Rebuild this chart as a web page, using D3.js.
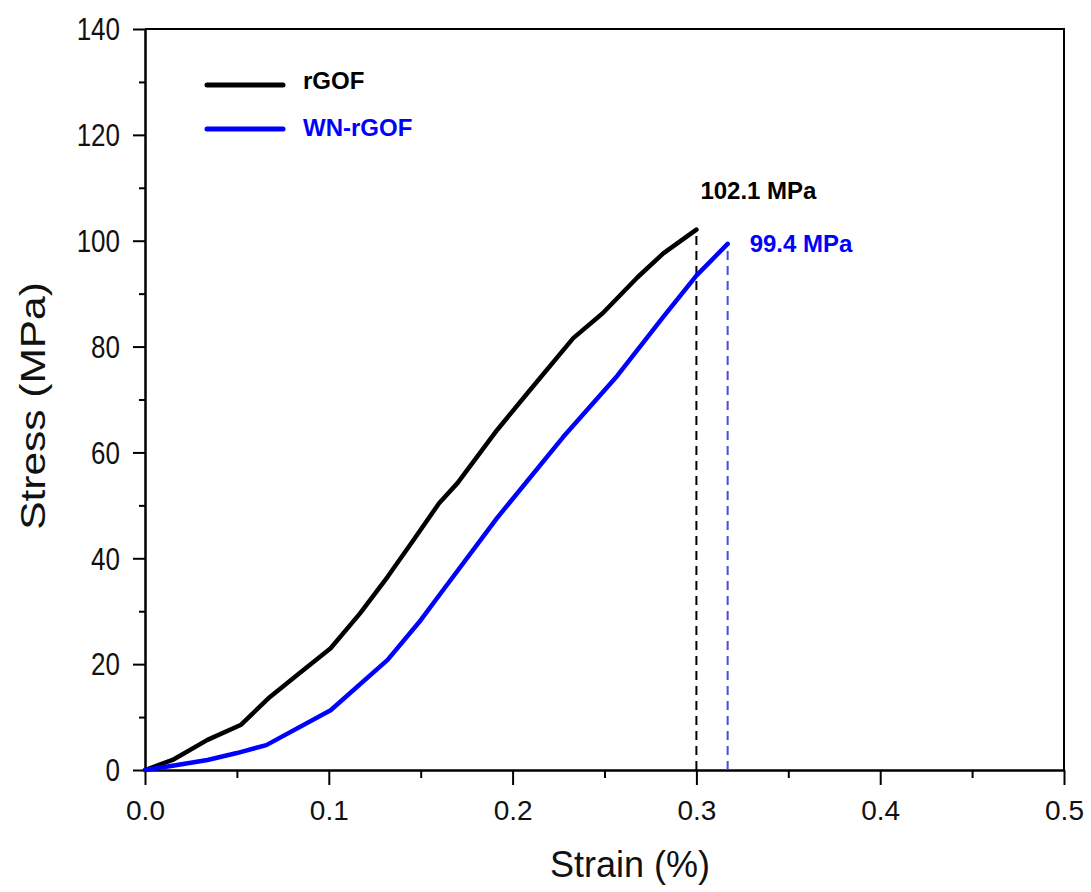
<!DOCTYPE html>
<html>
<head>
<meta charset="utf-8">
<script src="https://cdn.jsdelivr.net/npm/d3@7"></script>
<style>
  body { margin: 0; background: #fff; }
  svg { display: block; font-family: "Liberation Sans", Arial, sans-serif; }
</style>
</head>
<body>
<div id="chart"></div>
<script>
// values
const rgofStrain = [0, 0.015, 0.034, 0.052, 0.068, 0.084, 0.101, 0.117, 0.132, 0.146, 0.16, 0.17, 0.1915, 0.2095, 0.233, 0.249, 0.268, 0.282, 0.3];
const rgofStress = [0, 1.9, 5.7, 8.5, 13.8, 18.3, 23, 29.6, 36.5, 43.4, 50.4, 54.2, 64.2, 71.8, 81.6, 86.3, 93.1, 97.6, 102.1];

const wnStrain = [0, 0.015, 0.034, 0.05, 0.066, 0.101, 0.132, 0.15, 0.1605, 0.1915, 0.2275, 0.257, 0.282, 0.3, 0.317];
const wnStress = [0, 0.8, 1.9, 3.2, 4.7, 11.3, 20.8, 28.3, 33.2, 47.6, 62.9, 74.5, 85.6, 93.4, 99.4];

const seriesNames = ['rGOF', 'WN-rGOF'];
const seriesColors = ['#000000', '#0000ff'];
const peakLabels = ['102.1 MPa', '99.4 MPa'];
const dashColors = ['#000000', '#4b4bd6'];

const xMajor = [0, 0.1, 0.2, 0.3, 0.4, 0.5];
const xMinor = [0.05, 0.15, 0.25, 0.35, 0.45];
const yMajor = [0, 20, 40, 60, 80, 100, 120, 140];
const yMinor = [10, 30, 50, 70, 90, 110, 130];

const width = 1091, height = 892;
const margin = { left: 145, right: 27, top: 29, bottom: 122 };

const svg = d3.select('#chart').append('svg')
  .attr('width', width)
  .attr('height', height);

const x = d3.scaleLinear().domain([0, 0.5]).range([margin.left, width - margin.right]);
const y = d3.scaleLinear().domain([0, 140]).range([height - margin.bottom, margin.top]);

const series = [
  rgofStrain.map((s, i) => ({ x: s, y: rgofStress[i] })),
  wnStrain.map((s, i) => ({ x: s, y: wnStress[i] }))
];

// frame (top + right)
svg.append('path')
  .attr('d', `M${x(0)},${y(140)}H${x(0.5)}V${y(0)}`)
  .attr('fill', 'none')
  .attr('stroke', '#000')
  .attr('stroke-width', 2);

// axes
svg.append('g')
  .attr('class', 'x-axis')
  .attr('transform', `translate(0,${y(0)})`)
  .call(d3.axisBottom(x).tickValues(xMajor).tickFormat(d3.format('.1f')).tickSize(15).tickPadding(15).tickSizeOuter(0));
svg.append('g')
  .attr('transform', `translate(0,${y(0)})`)
  .call(d3.axisBottom(x).tickValues(xMinor).tickFormat('').tickSize(8).tickSizeOuter(0));

svg.append('g')
  .attr('class', 'y-axis')
  .attr('transform', `translate(${x(0)},0)`)
  .call(d3.axisLeft(y).tickValues(yMajor).tickSize(12).tickPadding(13).tickSizeOuter(0));
svg.append('g')
  .attr('transform', `translate(${x(0)},0)`)
  .call(d3.axisLeft(y).tickValues(yMinor).tickFormat('').tickSize(6).tickSizeOuter(0));

svg.selectAll('.domain').attr('stroke-width', 2);
svg.selectAll('.tick line').attr('stroke-width', 2);
svg.selectAll('.tick text')
  .style('font-family', '"Liberation Sans", Arial, sans-serif')
  .attr('fill', '#111');
svg.selectAll('.x-axis .tick text').style('font-size', '28px');
// y labels look taller than wide in the original
svg.selectAll('.y-axis .tick text')
  .style('font-size', '26px')
  .attr('dy', null)
  .attr('y', 0)
  .attr('transform', 'translate(-25,0) scale(1,1.18)')
  .attr('x', 0)
  .attr('dominant-baseline', 'central');

// dashed drop lines at fracture
series.forEach((d, i) => {
  const last = d[d.length - 1];
  svg.append('line')
    .attr('x1', x(last.x)).attr('x2', x(last.x))
    .attr('y1', y(0)).attr('y2', y(last.y))
    .attr('stroke', dashColors[i])
    .attr('stroke-width', 2)
    .attr('stroke-dasharray', '9,6');
});

// curves
const line = d3.line().x(d => x(d.x)).y(d => y(d.y));
series.forEach((d, i) => {
  svg.append('path')
    .datum(d)
    .attr('d', line)
    .attr('fill', 'none')
    .attr('stroke', seriesColors[i])
    .attr('stroke-width', 4.5)
    .attr('stroke-linejoin', 'round')
    .attr('stroke-linecap', 'round');
});

// peak labels
const labelOffsets = [{ dx: 4, dy: -31 }, { dx: 22, dy: 8 }];
series.forEach((d, i) => {
  const last = d[d.length - 1];
  svg.append('text')
    .attr('x', x(last.x) + labelOffsets[i].dx)
    .attr('y', y(last.y) + labelOffsets[i].dy)
    .text(peakLabels[i])
    .attr('fill', seriesColors[i])
    .style('font-size', '24px')
    .style('font-weight', 'bold');
});

// legend
const legend = svg.append('g').attr('transform', 'translate(207,85)');
const item = legend.selectAll('g')
  .data(seriesNames)
  .enter()
  .append('g')
  .attr('transform', (d, i) => `translate(0,${i * 44})`);
item.append('line')
  .attr('x1', 0).attr('x2', 76)
  .attr('stroke', (d, i) => seriesColors[i])
  .attr('stroke-width', 5)
  .attr('stroke-linecap', 'round');
item.append('text')
  .attr('x', 96)
  .attr('y', (d, i) => i === 0 ? 4 : 7)
  .text(d => d)
  .attr('fill', (d, i) => seriesColors[i])
  .style('font-size', '24px')
  .style('font-weight', 'bold');

// axis titles
svg.append('text')
  .attr('x', 630)
  .attr('y', 877)
  .attr('text-anchor', 'middle')
  .text('Strain (%)')
  .attr('fill', '#111')
  .style('font-size', '36px');

svg.append('text')
  .attr('transform', 'translate(45,406) scale(1,1.18) rotate(-90)')
  .attr('text-anchor', 'middle')
  .text('Stress (MPa)')
  .attr('fill', '#111')
  .style('font-size', '36px');
</script>
</body>
</html>
